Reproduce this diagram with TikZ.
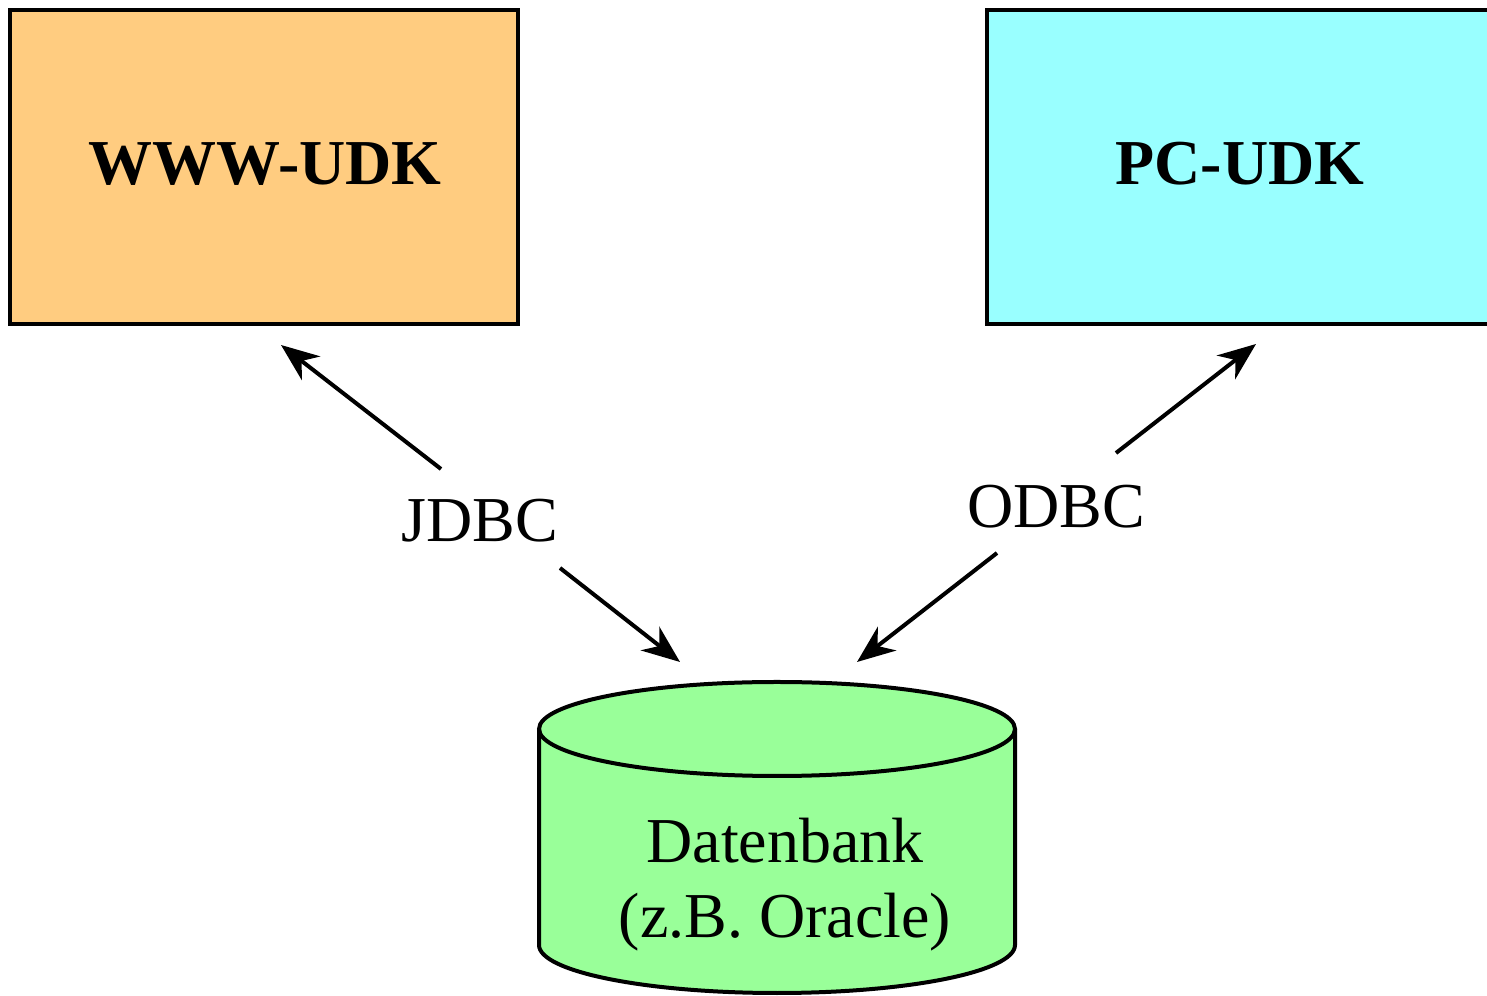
\documentclass[tikz,border=0pt]{standalone}
\usepackage{fontspec}
\setmainfont{Liberation Serif}
\usetikzlibrary{arrows.meta}
\definecolor{wwwfill}{RGB}{255,204,128}
\definecolor{pcfill}{RGB}{153,255,255}
\definecolor{dbfill}{RGB}{153,255,153}
\begin{document}
\begin{tikzpicture}[x=0.5pt,y=0.5pt,
  box/.style={draw=black,line width=2pt,minimum width=254pt,minimum height=157pt,inner sep=0pt,outer sep=0pt},
  txt/.style={font=\fontsize{32}{40}\selectfont,inner sep=0pt,anchor=base},
  conn/.style={line width=2pt,-{Stealth[length=19pt,width=15pt,inset=6pt]}}]
\useasboundingbox (0,0) rectangle (1487,995);
% boxes
\node[box,fill=wwwfill] (www) at (264,828) {};
\node[box,fill=pcfill] (pc) at (1241,828) {};
\node[txt,font=\fontsize{32}{40}\selectfont\bfseries] (wwwt) at (265,810) {WWW-UDK};
\node[txt,font=\fontsize{32}{40}\selectfont\bfseries] (pct) at (1240,810) {PC-UDK};
% database cylinder
\fill[dbfill] (539,266) -- (539,50) arc[start angle=180,end angle=360,x radius=238,y radius=48]
  -- (1015,266) arc[start angle=0,end angle=180,x radius=238,y radius=47] -- cycle;
\draw[line width=2pt] (777,266) ellipse[x radius=238,y radius=47];
\draw[line width=2pt] (539,266) -- (539,50) arc[start angle=180,end angle=360,x radius=238,y radius=48] -- (1015,266);
\node[txt] (db) at (785,132) {Datenbank};
\node[txt] (dbo) at (785,57) {(z.B. Oracle)};
% labels
\node[txt] (jdbc) at (480,453) {JDBC};
\node[txt] (odbc) at (1056,467) {ODBC};
% connector ends
\coordinate (j1) at (441,526);
\coordinate (jt) at (281,650);
\coordinate (j2) at (560,427);
\coordinate (jb) at (680,333);
\coordinate (o1) at (1116,542);
\coordinate (ot) at (1256,651);
\coordinate (o2) at (997,442);
\coordinate (ob) at (857,333);
\draw[conn] (j1) -- (jt);
\draw[conn] (j2) -- (jb);
\draw[conn] (o1) -- (ot);
\draw[conn] (o2) -- (ob);
\end{tikzpicture}
\end{document}
